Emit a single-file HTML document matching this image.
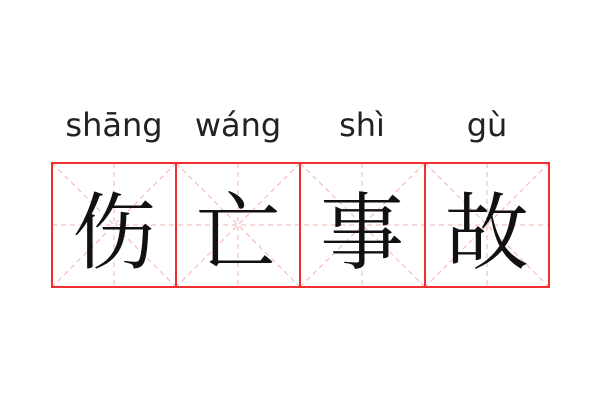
<!DOCTYPE html>
<html><head><meta charset="utf-8"><style>
body{margin:0;width:600px;height:400px;background:#fff;overflow:hidden;position:relative;font-family:"DejaVu Sans","Liberation Sans",sans-serif}
.py{position:absolute;top:106px;width:124px;text-align:center;font-size:32px;color:#222}
.ch{position:absolute;top:175px;width:124px;text-align:center;font-size:84px;line-height:104px;color:#111;font-family:"Noto Serif CJK SC","Noto Sans CJK SC",serif}
</style></head><body>
<div class="py" style="left:52px">shāng</div>
<div class="py" style="left:176px">wáng</div>
<div class="py" style="left:300px">shì</div>
<div class="py" style="left:425px">gù</div>
<svg width="600" height="400" style="position:absolute;left:0;top:0">
<g stroke="#f4b0b0" stroke-width="1" stroke-dasharray="5,4" fill="none">
<line x1="52" y1="225" x2="549" y2="225"/>
<line x1="114" y1="163" x2="114" y2="287"/><line x1="238" y1="163" x2="238" y2="287"/>
<line x1="362" y1="163" x2="362" y2="287"/><line x1="487" y1="163" x2="487" y2="287"/>
<line x1="52" y1="163" x2="176" y2="287"/><line x1="176" y1="163" x2="52" y2="287"/>
<line x1="176" y1="163" x2="300" y2="287"/><line x1="300" y1="163" x2="176" y2="287"/>
<line x1="300" y1="163" x2="425" y2="287"/><line x1="425" y1="163" x2="300" y2="287"/>
<line x1="425" y1="163" x2="549" y2="287"/><line x1="549" y1="163" x2="425" y2="287"/>
</g>
<g stroke="#f03030" stroke-width="2" fill="none">
<rect x="52" y="163" width="497" height="124"/>
<line x1="176" y1="163" x2="176" y2="287"/><line x1="300" y1="163" x2="300" y2="287"/><line x1="425" y1="163" x2="425" y2="287"/>
</g>
</svg>
<div class="ch" style="left:52px">伤</div>
<div class="ch" style="left:176px">亡</div>
<div class="ch" style="left:300px">事</div>
<div class="ch" style="left:425px">故</div>
</body></html>
